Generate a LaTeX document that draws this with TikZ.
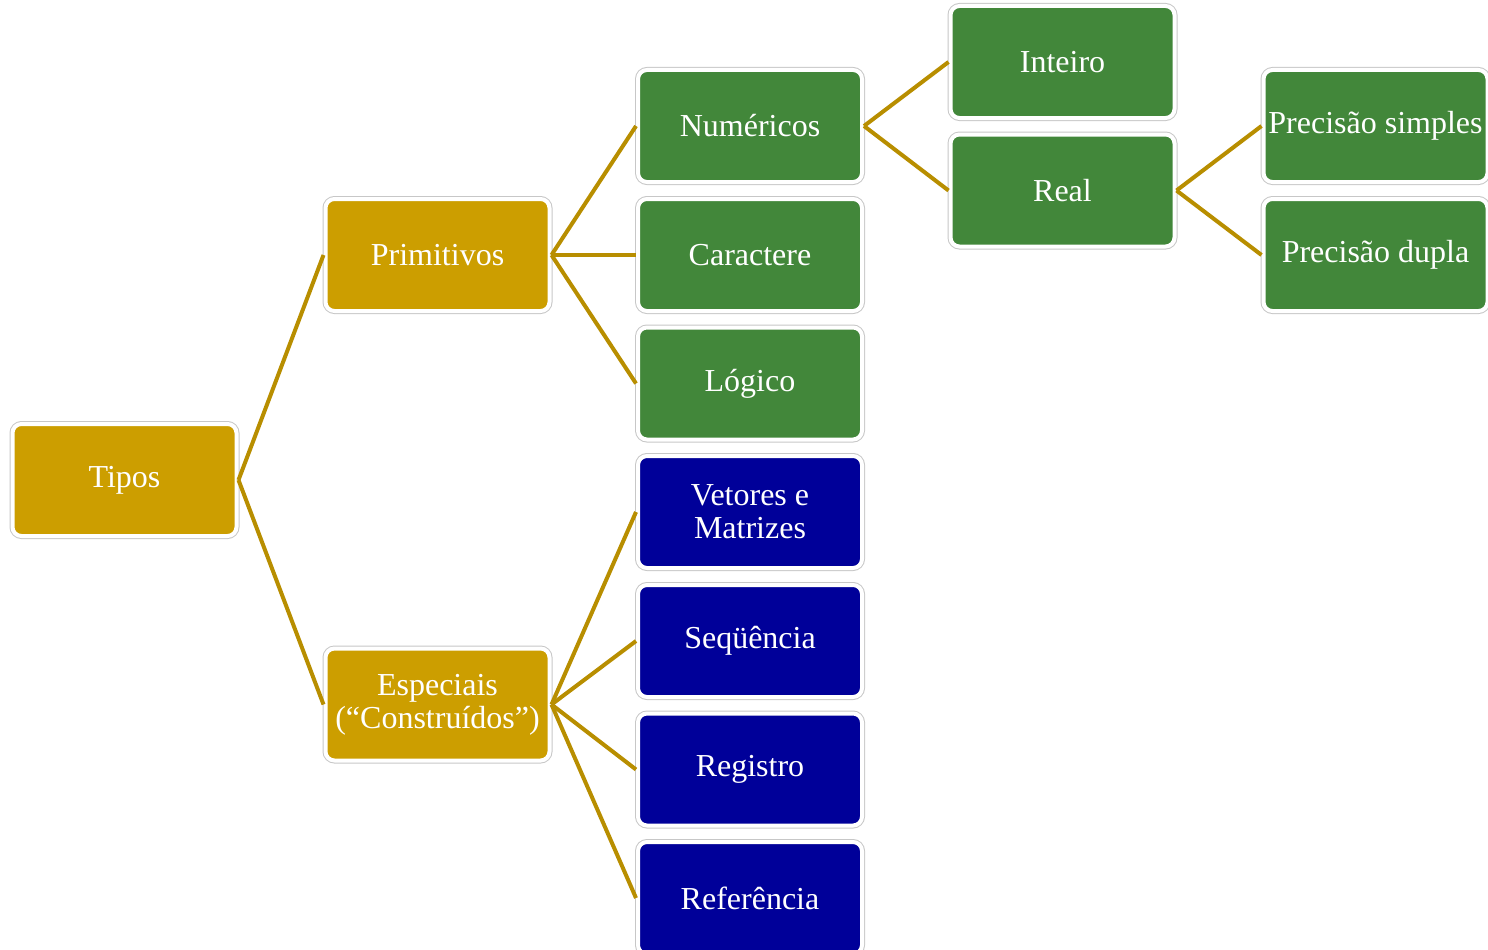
\documentclass[tikz,border=0pt]{standalone}
\usepackage{fontspec}
\setmainfont{Liberation Serif}
\usepackage{xcolor}
\usetikzlibrary{positioning}
\definecolor{tipogold}{RGB}{204,158,0}
\definecolor{tipogreen}{RGB}{66,135,58}
\definecolor{tipoblue}{RGB}{0,0,153}
\definecolor{linkgold}{RGB}{184,142,0}

\begin{document}
\begin{tikzpicture}[x=1pt, y=-1pt,
            box/.style={rectangle, rounded corners=9pt, minimum width=224pt, minimum height=112pt,
                inner sep=2pt, align=center, text=white, draw=white, line width=4pt,
                preaction={draw=black!22, line width=6pt},
                font=\fontsize{32}{33}\selectfont},
            link/.style={draw=linkgold, line width=4pt}]

            \useasboundingbox (0,0) rectangle (1488,950);

            % nivel 1 e 2
            \node[box, fill=tipogold] (tipos) at (124.5,480) {Tipos};
            \node[box, fill=tipogold] (primitivos) at (437.5,255) {Primitivos};
            \node[box, fill=tipogold] (especiais) at (437.5,704.5) {Especiais\\(“Construídos”)};

            % primitivos
            \node[box, fill=tipogreen] (numericos) at (750,126) {Numéricos};
            \node[box, fill=tipogreen] (caractere) at (750,255) {Caractere};
            \node[box, fill=tipogreen] (logico) at (750,383.5) {Lógico};

            % especiais
            \node[box, fill=tipoblue] (vetores) at (750,512) {Vetores e\\Matrizes};
            \node[box, fill=tipoblue] (sequencia) at (750,641) {Seqüência};
            \node[box, fill=tipoblue] (registro) at (750,769.5) {Registro};
            \node[box, fill=tipoblue] (referencia) at (750,898) {Referência};

            % numericos
            \node[box, fill=tipogreen] (inteiro) at (1062.5,62) {Inteiro};
            \node[box, fill=tipogreen] (real) at (1062.5,190.5) {Real};
            \node[box, fill=tipogreen] (simples) at (1375.5,126) {Precisão simples};
            \node[box, fill=tipogreen] (dupla) at (1375.5,255) {Precisão dupla};

            \draw[link] (tipos.east) -- (primitivos.west);
            \draw[link] (tipos.east) -- (especiais.west);
            \draw[link] (primitivos.east) -- (numericos.west);
            \draw[link] (primitivos.east) -- (caractere.west);
            \draw[link] (primitivos.east) -- (logico.west);
            \draw[link] (especiais.east) -- (vetores.west);
            \draw[link] (especiais.east) -- (sequencia.west);
            \draw[link] (especiais.east) -- (registro.west);
            \draw[link] (especiais.east) -- (referencia.west);
            \draw[link] (numericos.east) -- (inteiro.west);
            \draw[link] (numericos.east) -- (real.west);
            \draw[link] (real.east) -- (simples.west);
            \draw[link] (real.east) -- (dupla.west);
        \end{tikzpicture}
\end{document}
